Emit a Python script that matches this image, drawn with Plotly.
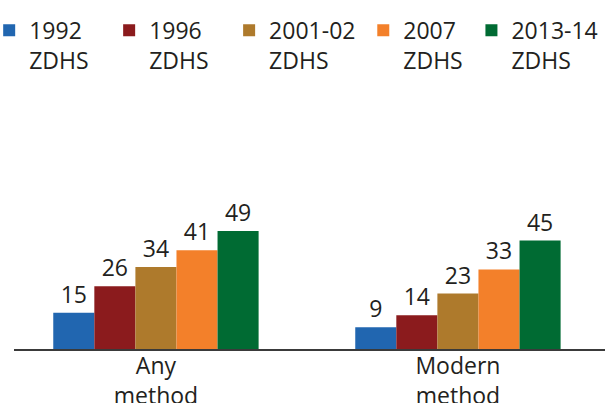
import plotly.graph_objects as go

# Data
categories = ["Any<br>method", "Modern<br>method"]
surveys = ["1992<br>ZDHS", "1996<br>ZDHS", "2001-02<br>ZDHS", "2007<br>ZDHS", "2013-14<br>ZDHS"]
any_method = [15, 26, 34, 41, 49]
modern_method = [9, 14, 23, 33, 45]
colors = ["#2166b0", "#8b1b1d", "#ae7a2c", "#f3802a", "#006b33"]

text_color = "#231f20"
font_family = "Open Sans, Noto Sans, sans-serif"

# one small legend per survey so each entry sits where the original has it
legend_x = [-0.042, 0.161, 0.364, 0.591, 0.774]

fig = go.Figure()
legends = {}
for i, name in enumerate(surveys):
    vals = [any_method[i], modern_method[i]]
    lname = "legend" if i == 0 else f"legend{i + 1}"
    fig.add_trace(go.Bar(
        x=categories,
        y=vals,
        name=name,
        legend=lname,
        marker=dict(color=colors[i], line=dict(width=0)),
        text=[str(v) for v in vals],
        textposition="outside",
        textfont=dict(size=23, color=text_color),
        cliponaxis=False,
    ))
    legends[lname] = dict(
        orientation="h",
        x=legend_x[i], xanchor="left",
        y=1.265, yanchor="top",
        valign="top",
        font=dict(size=23, color=text_color),
        itemwidth=30,
        bgcolor="rgba(0,0,0,0)",
    )

fig.update_layout(
    width=605,
    height=403,
    margin=dict(l=14, r=0, t=80, b=54, autoexpand=False),
    barmode="group",
    bargap=0.32,
    bargroupgap=0,
    plot_bgcolor="white",
    paper_bgcolor="white",
    font=dict(family=font_family, size=23, color=text_color),
    showlegend=True,
    **legends,
)

fig.update_xaxes(
    type="category",
    range=[-0.47, 1.487],
    automargin=False,
    showline=True,
    linecolor="#3a3a3a",
    linewidth=2,
    ticks="",
    ticklabelstandoff=-5,
    tickfont=dict(size=23, color=text_color),
    showgrid=False,
)
fig.update_yaxes(
    range=[0, 111.6],
    automargin=False,
    visible=False,
    showgrid=False,
    zeroline=False,
)

fig.write_html("out.html", config={"displayModeBar": False},
               post_script="document.body.style.margin='0';")
